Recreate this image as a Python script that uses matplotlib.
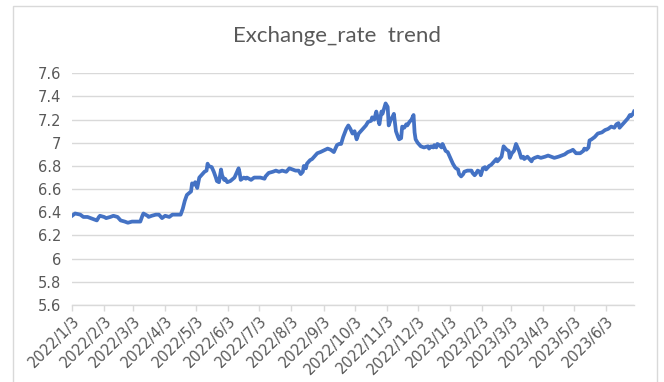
import matplotlib
matplotlib.use("Agg")
import matplotlib.pyplot as plt
import matplotlib.dates as mdates
from matplotlib.patches import Rectangle
from matplotlib.ticker import FuncFormatter, MultipleLocator
import pandas as pd

# daily exchange rate
dates = [
    "2022-01-03", "2022-01-06", "2022-01-11", "2022-01-14", "2022-01-18", "2022-01-21",
    "2022-01-24", "2022-01-27", "2022-01-29", "2022-01-30", "2022-02-03", "2022-02-05",
    "2022-02-09", "2022-02-12", "2022-02-16", "2022-02-19", "2022-02-23", "2022-02-26",
    "2022-03-02", "2022-03-07", "2022-03-10", "2022-03-12", "2022-03-13", "2022-03-17",
    "2022-03-18", "2022-03-21", "2022-03-25", "2022-03-28", "2022-03-31", "2022-04-03",
    "2022-04-07", "2022-04-10", "2022-04-15", "2022-04-18", "2022-04-20", "2022-04-22",
    "2022-04-24", "2022-04-28", "2022-04-29", "2022-05-01", "2022-05-02", "2022-05-04",
    "2022-05-06", "2022-05-09", "2022-05-11", "2022-05-13", "2022-05-14", "2022-05-15",
    "2022-05-18", "2022-05-20", "2022-05-22", "2022-05-23", "2022-05-25", "2022-05-27",
    "2022-05-28", "2022-05-30", "2022-05-31", "2022-06-02", "2022-06-05", "2022-06-09",
    "2022-06-11", "2022-06-13", "2022-06-14", "2022-06-15", "2022-06-18", "2022-06-20",
    "2022-06-21", "2022-06-25", "2022-06-28", "2022-07-01", "2022-07-04", "2022-07-08",
    "2022-07-09", "2022-07-12", "2022-07-16", "2022-07-19", "2022-07-22", "2022-07-25",
    "2022-07-29", "2022-08-01", "2022-08-04", "2022-08-07", "2022-08-10", "2022-08-12",
    "2022-08-14", "2022-08-15", "2022-08-17", "2022-08-18", "2022-08-21", "2022-08-23",
    "2022-08-25", "2022-08-28", "2022-08-31", "2022-09-07", "2022-09-10", "2022-09-13",
    "2022-09-16", "2022-09-18", "2022-09-20", "2022-09-22", "2022-09-25", "2022-09-27",
    "2022-09-29", "2022-10-01", "2022-10-03", "2022-10-05", "2022-10-07", "2022-10-09",
    "2022-10-12", "2022-10-14", "2022-10-16", "2022-10-19", "2022-10-20", "2022-10-22",
    "2022-10-24", "2022-10-25", "2022-10-27", "2022-10-29", "2022-10-30", "2022-11-01",
    "2022-11-02", "2022-11-04", "2022-11-05", "2022-11-07", "2022-11-09", "2022-11-10",
    "2022-11-12", "2022-11-14", "2022-11-15", "2022-11-17", "2022-11-18", "2022-11-20",
    "2022-11-22", "2022-11-23", "2022-11-25", "2022-11-27", "2022-11-29", "2022-11-30",
    "2022-12-01", "2022-12-03", "2022-12-05", "2022-12-06", "2022-12-09", "2022-12-13",
    "2022-12-14", "2022-12-16", "2022-12-18", "2022-12-19", "2022-12-21", "2022-12-22",
    "2022-12-24", "2022-12-26", "2022-12-27", "2022-12-29", "2022-12-30", "2023-01-01",
    "2023-01-03", "2023-01-04", "2023-01-06", "2023-01-08", "2023-01-09", "2023-01-11",
    "2023-01-12", "2023-01-14", "2023-01-16", "2023-01-17", "2023-01-20", "2023-01-24",
    "2023-01-25", "2023-01-27", "2023-01-28", "2023-01-30", "2023-02-01", "2023-02-02",
    "2023-02-04", "2023-02-06", "2023-02-07", "2023-02-09", "2023-02-10", "2023-02-12",
    "2023-02-15", "2023-02-17", "2023-02-18", "2023-02-20", "2023-02-22", "2023-02-24",
    "2023-02-27", "2023-03-01", "2023-03-02", "2023-03-04", "2023-03-06", "2023-03-08",
    "2023-03-10", "2023-03-11", "2023-03-13", "2023-03-15", "2023-03-16", "2023-03-19",
    "2023-03-23", "2023-03-24", "2023-03-26", "2023-03-29", "2023-04-01", "2023-04-05",
    "2023-04-08", "2023-04-11", "2023-04-14", "2023-04-18", "2023-04-21", "2023-04-24",
    "2023-04-27", "2023-04-30", "2023-05-02", "2023-05-04", "2023-05-05", "2023-05-09",
    "2023-05-12", "2023-05-13", "2023-05-15", "2023-05-17", "2023-05-18", "2023-05-20",
    "2023-05-23", "2023-05-26", "2023-05-30", "2023-06-02", "2023-06-05", "2023-06-08",
    "2023-06-11", "2023-06-13", "2023-06-15", "2023-06-16", "2023-06-18", "2023-06-21",
    "2023-06-24", "2023-06-26", "2023-06-27", "2023-06-29", "2023-06-30",
]
rates = [
    6.37, 6.39, 6.38, 6.36, 6.36, 6.35,
    6.34, 6.33, 6.36, 6.37, 6.36, 6.35,
    6.36, 6.37, 6.36, 6.33, 6.32, 6.31,
    6.32, 6.32, 6.32, 6.37, 6.39, 6.37,
    6.36, 6.37, 6.38, 6.38, 6.35, 6.37,
    6.36, 6.38, 6.38, 6.38, 6.43, 6.50,
    6.55, 6.58, 6.65, 6.64, 6.66, 6.61,
    6.70, 6.73, 6.75, 6.76, 6.82, 6.80,
    6.79, 6.75, 6.70, 6.67, 6.66, 6.77,
    6.72, 6.68, 6.69, 6.66, 6.67, 6.70,
    6.74, 6.78, 6.74, 6.68, 6.70, 6.69,
    6.70, 6.68, 6.70, 6.70, 6.70, 6.69,
    6.71, 6.74, 6.75, 6.76, 6.75, 6.76,
    6.75, 6.78, 6.77, 6.76, 6.76, 6.73,
    6.75, 6.80, 6.78, 6.82, 6.85, 6.86,
    6.88, 6.91, 6.92, 6.95, 6.94, 6.92,
    6.98, 6.99, 6.99, 7.05, 7.12, 7.15,
    7.12, 7.08, 7.10, 7.03, 7.08, 7.10,
    7.13, 7.15, 7.18, 7.19, 7.22, 7.20,
    7.27, 7.23, 7.16, 7.27, 7.25, 7.31,
    7.34, 7.31, 7.15, 7.20, 7.23, 7.25,
    7.10, 7.05, 7.03, 7.04, 7.14, 7.13,
    7.16, 7.15, 7.18, 7.20, 7.24, 7.09,
    7.03, 7.00, 6.98, 6.97, 6.96, 6.97,
    6.95, 6.97, 6.96, 6.98, 6.96, 6.99,
    6.98, 6.96, 6.99, 6.95, 6.93, 6.92,
    6.88, 6.86, 6.82, 6.79, 6.78, 6.77,
    6.73, 6.71, 6.73, 6.75, 6.76, 6.76,
    6.74, 6.72, 6.73, 6.76, 6.75, 6.72,
    6.78, 6.79, 6.77, 6.79, 6.80, 6.81,
    6.84, 6.86, 6.84, 6.86, 6.88, 6.97,
    6.94, 6.93, 6.87, 6.91, 6.93, 6.99,
    6.95, 6.93, 6.87, 6.88, 6.86, 6.88,
    6.84, 6.86, 6.87, 6.88, 6.87, 6.88,
    6.89, 6.88, 6.87, 6.88, 6.89, 6.90,
    6.92, 6.93, 6.94, 6.92, 6.91, 6.91,
    6.93, 6.95, 6.94, 6.96, 7.02, 7.03,
    7.05, 7.08, 7.09, 7.11, 7.12, 7.14,
    7.13, 7.16, 7.17, 7.13, 7.15, 7.18,
    7.21, 7.24, 7.23, 7.25, 7.27,
]
title = "Exchange_rate  trend"
y_min, y_max, y_step = 5.6, 7.6, 0.2

x = pd.to_datetime(dates)

gray_txt = "#595959"
grid_col = "#d9d9d9"
narrow = ["Liberation Sans Narrow", "DejaVu Sans"]

fig = plt.figure(figsize=(6.64, 3.82), dpi=100)
fig.patch.set_facecolor("white")
# chart border like an Excel chart object
fig.patches.append(Rectangle((13 / 664, -0.05), (657 - 13) / 664, 1.05 - 5.5 / 382,
                             transform=fig.transFigure, fill=False,
                             edgecolor=grid_col, linewidth=1.0))

ax = fig.add_axes([72 / 664, 1 - 305 / 382, (634 - 72) / 664, (305 - 73.3) / 382])
ax.plot(x, rates, color="#4472C4", linewidth=2.7, solid_joinstyle="round", zorder=3)

ax.set_ylim(y_min, y_max)
ax.yaxis.set_major_locator(MultipleLocator(y_step))
ax.yaxis.set_major_formatter(FuncFormatter(lambda v, p: f"{round(v, 1):g}"))
ax.set_xlim(x[0], x[-1])
ax.xaxis.set_major_locator(mdates.MonthLocator(bymonthday=3))
ax.xaxis.set_major_formatter(
    FuncFormatter(lambda v, p: (lambda d: f"{d.year}/{d.month}/{d.day}")(mdates.num2date(v)))
)

ax.grid(axis="y", color=grid_col, linewidth=1.0)
ax.set_axisbelow(True)
for s in ["top", "right", "left"]:
    ax.spines[s].set_visible(False)
ax.spines["bottom"].set_color(grid_col)
ax.spines["bottom"].set_linewidth(1.0)

ax.tick_params(axis="y", length=0, pad=8, labelsize=10.5, labelcolor=gray_txt)
ax.tick_params(axis="x", length=4, width=1.0, color=grid_col, labelsize=10.5,
               labelcolor=gray_txt, pad=2)
for lab in ax.get_yticklabels():
    lab.set_family(narrow)
for lab in ax.get_xticklabels():
    lab.set_family(narrow)
    lab.set_rotation(45)
    lab.set_ha("right")
    lab.set_rotation_mode("anchor")

fig.text(337 / 664, 1 - 36 / 382, title, ha="center", va="center",
         fontsize=16, color=gray_txt, family=["Lato", "DejaVu Sans"])

fig.savefig("out.png", dpi=100, facecolor="white")
